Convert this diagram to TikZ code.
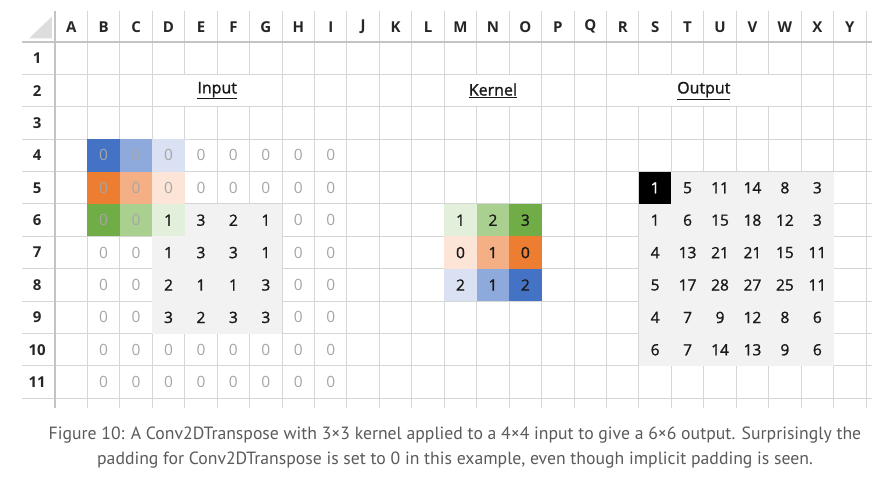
\documentclass[tikz,border=0pt]{standalone}
\usepackage{fontspec}
\setmainfont{Open Sans}
\newfontfamily\captionfont{PT Sans}
\newfontfamily\cellfont{Open Sans}[FakeBold=1.2]
\definecolor{gridgray}{HTML}{D6D6D6}
\definecolor{headgray}{HTML}{C4C4C4}
\definecolor{cornergray}{HTML}{DDDDDD}
\definecolor{zerogray}{HTML}{A6A6A6}
\definecolor{datagray}{HTML}{F2F2F2}
\definecolor{captiongray}{HTML}{5A5A5A}
\definecolor{bluedark}{HTML}{4472C4}
\definecolor{bluemid}{HTML}{8EA9DB}
\definecolor{bluelight}{HTML}{D9E1F2}
\definecolor{orangedark}{HTML}{ED7D31}
\definecolor{orangemid}{HTML}{F4B084}
\definecolor{orangelight}{HTML}{FCE4D6}
\definecolor{greendark}{HTML}{70AD47}
\definecolor{greenmid}{HTML}{A9D08E}
\definecolor{greenlight}{HTML}{E2EFDA}
\tikzset{
  GridLine/.style = { draw=gridgray, line width=1pt },
  HeadLine/.style = { draw=headgray, line width=1.2pt },
  HeadStyle/.style = { inner sep=0pt, text=black!85,
                       font=\fontsize{15}{15}\selectfont\bfseries },
  CellStyle/.style = { inner sep=0pt, text=black!90,
                       font=\cellfont\fontsize{15.5}{15.5}\selectfont },
  ZeroStyle/.style = { CellStyle, text=zerogray,
                       font=\normalfont\fontsize{15.5}{15.5}\selectfont },
  BlackCell/.style = { CellStyle, text=white },
  TitleStyle/.style = { inner sep=0pt, text=black!90,
                        font=\cellfont\fontsize{16}{16}\selectfont },
  CaptionStyle/.style = { inner sep=0pt, text=captiongray, align=center,
                          font=\captionfont\fontsize{17.7}{25}\selectfont } }

\begin{document}
\begin{tikzpicture}[x=32.44pt, y=-32.4pt]
  \useasboundingbox (-1.6954,-1.2963) rectangle (25.555,13.858);

  \foreach \c in {0,...,25} \draw[GridLine] (\c,-0.957) -- (\c,11.3);
  \foreach \r in {1,...,11} \draw[GridLine] (-1.017,\r) -- (25.2,\r);
  \draw[HeadLine] (-1.017,0) -- (25.2,0);
  \draw[HeadLine] (0,-0.957) -- (0,11.3);
  \fill[cornergray] (-0.1,-0.78) -- (-0.1,-0.11) -- (-0.8,-0.11) -- cycle;

  \foreach \l [count=\c] in {A,B,C,D,E,F,G,H,I,J,K,L,M,N,O,P,Q,R,S,T,U,V,W,X,Y}
    \node[HeadStyle] (col-\l) at (\c-0.5,-0.47) {\l};
  \foreach \r in {1,...,11}
    \node[HeadStyle] (row-\r) at (-0.55,\r-0.5) {\r};

  \fill[white] (3.02,1.02) rectangle (6.98,1.98);
  \fill[white] (12.02,1.02) rectangle (14.98,1.98);
  \fill[white] (17.02,1.02) rectangle (22.98,1.98);
  \node[TitleStyle] (input-title) at (5,1.5) {\underline{Input}};
  \node[TitleStyle] (kernel-title) at (13.5,1.5) {\underline{Kernel}};
  \node[TitleStyle] (output-title) at (20,1.5) {\underline{Output}};

  \fill[datagray] (3,5) rectangle (7,9);
  \foreach \c/\r/\clr in {2/4/bluedark, 3/4/bluemid, 4/4/bluelight,
                          2/5/orangedark, 3/5/orangemid, 4/5/orangelight,
                          2/6/greendark, 3/6/greenmid, 4/6/greenlight}
    \fill[\clr] (\c-1,\r-1) rectangle (\c,\r);
  \foreach \vals [count=\r from 4] in {{0,0,0,0,0,0,0,0},{0,0,0,0,0,0,0,0},
      {0,0,1,3,2,1,0,0},{0,0,1,3,3,1,0,0},{0,0,2,1,1,3,0,0},
      {0,0,3,2,3,3,0,0},{0,0,0,0,0,0,0,0},{0,0,0,0,0,0,0,0}}
    \foreach \v [count=\c from 2] in \vals {
      \ifnum\v=0 \def\cellsty{ZeroStyle}\else\def\cellsty{CellStyle}\fi
      \node[\cellsty] (in-\r-\c) at (\c-0.5,\r-0.5) {\v};
    }

  \foreach \vals [count=\r from 6] in {{1/greenlight,2/greenmid,3/greendark},
      {0/orangelight,1/orangemid,0/orangedark},{2/bluelight,1/bluemid,2/bluedark}}
    \foreach \v/\clr [count=\c from 13] in \vals {
      \fill[\clr] (\c-1,\r-1) rectangle (\c,\r);
      \node[CellStyle] (ker-\r-\c) at (\c-0.5,\r-0.5) {\v};
    }

  \fill[datagray] (18,4) rectangle (24,10);
  \fill[black] (18,4) rectangle (19,5);
  \foreach \vals [count=\r from 5] in {{1,5,11,14,8,3},{1,6,15,18,12,3},
      {4,13,21,21,15,11},{5,17,28,27,25,11},{4,7,9,12,8,6},{6,7,14,13,9,6}}
    \foreach \v [count=\c from 19] in \vals {
      \def\cellsty{CellStyle}
      \ifnum\r=5 \ifnum\c=19 \def\cellsty{BlackCell}\fi\fi
      \node[\cellsty] (out-\r-\c) at (\c-0.5,\r-0.5) {\v};
    }

  \node[CaptionStyle] (caption) at (12.33,12.52) {Figure 10: A Conv2DTranspose with 3×3 kernel applied to a 4×4 input to give a 6×6 output. Surprisingly the\\padding for Conv2DTranspose is set to 0 in this example, even though implicit padding is seen.};
\end{tikzpicture}
\end{document}
